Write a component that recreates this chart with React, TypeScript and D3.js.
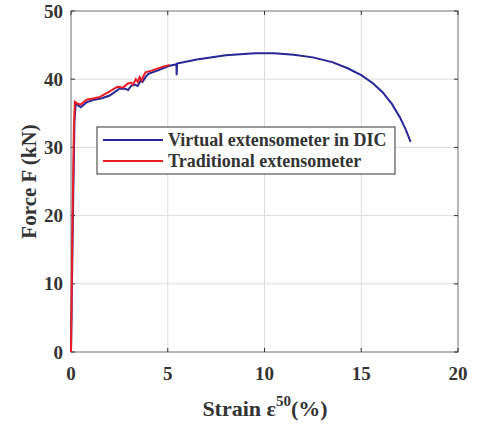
import React from "react";
import * as d3 from "d3";

const xTicks = [0, 5, 10, 15, 20];
const yTicks = [0, 10, 20, 30, 40, 50];

const blueStrain = [0, 0.1, 0.18, 0.25, 0.5, 0.8, 1.2, 1.6, 2.0, 2.5, 2.8, 2.95, 3.1, 3.3, 3.45, 3.6, 3.7, 3.85, 4.0, 4.5, 5.0, 5.45, 5.46, 5.48, 6.5, 8.0, 9.5, 10.5, 11.5, 12.5, 13.5, 14.3, 15.0, 15.6, 16.1, 16.6, 17.0, 17.3, 17.55];
const blueForce = [0, 20, 34, 36.4, 35.9, 36.6, 37.0, 37.2, 37.6, 38.6, 38.6, 38.4, 39.0, 39.2, 39.0, 39.8, 39.6, 40.3, 40.8, 41.3, 41.9, 42.2, 40.6, 42.3, 42.9, 43.5, 43.8, 43.8, 43.6, 43.2, 42.5, 41.6, 40.6, 39.4, 38.1, 36.3, 34.4, 32.6, 30.8];

const redStrain = [0, 0.08, 0.15, 0.2, 0.35, 0.5, 0.8, 1.2, 1.5, 2.0, 2.4, 2.7, 2.9, 3.1, 3.2, 3.35, 3.45, 3.55, 3.65, 3.75, 3.85, 4.2, 4.6, 5.1];
const redForce = [0, 20, 33, 36.7, 36.4, 36.3, 37.0, 37.2, 37.4, 38.2, 38.9, 38.8, 39.3, 39.5, 39.2, 40.0, 39.6, 40.3, 39.8, 40.5, 41.0, 41.3, 41.7, 42.1];

const seriesNames = ["Virtual extensometer in DIC", "Traditional extensometer"];
const seriesColors = ["#262696", "#ee1c25"];

export default function App() {
  const W = 478, H = 424;
  const L = 71, R = 458, T = 11, B = 352;
  const x = d3.scaleLinear().domain([0, 20]).range([L, R]);
  const y = d3.scaleLinear().domain([0, 50]).range([B, T]);
  const line = d3.line<[number, number]>().x(d => x(d[0])).y(d => y(d[1]));
  const blue = blueStrain.map((s, i) => [s, blueForce[i]] as [number, number]);
  const red = redStrain.map((s, i) => [s, redForce[i]] as [number, number]);
  const font = "'Liberation Serif', 'Times New Roman', serif";
  const txt = "#333333";
  return (
    <svg width={W} height={H} style={{ position: "absolute", left: 0, top: 0, background: "#fff" }} fontFamily={font}>
      {xTicks.slice(1, -1).map(t => (
        <line key={"gx" + t} x1={x(t)} x2={x(t)} y1={T} y2={B} stroke="#dcdcdc" strokeWidth={1} />
      ))}
      {yTicks.slice(1, -1).map(t => (
        <line key={"gy" + t} x1={L} x2={R} y1={y(t)} y2={y(t)} stroke="#dcdcdc" strokeWidth={1} />
      ))}
      <rect x={L} y={T} width={R - L} height={B - T} fill="none" stroke="#888" strokeWidth={1.2} />
      {xTicks.map(t => (
        <g key={"tx" + t}>
          <line x1={x(t)} x2={x(t)} y1={B} y2={B - 4} stroke="#333" />
          <line x1={x(t)} x2={x(t)} y1={T} y2={T + 4} stroke="#333" />
          <text x={x(t)} y={380} textAnchor="middle" fontSize={19} fontWeight="bold" fill={txt}>{t}</text>
        </g>
      ))}
      {yTicks.map(t => (
        <g key={"ty" + t}>
          <line x1={L} x2={L + 4} y1={y(t)} y2={y(t)} stroke="#333" />
          <line x1={R} x2={R - 4} y1={y(t)} y2={y(t)} stroke="#333" />
          <text x={63} y={y(t) + 6.5} textAnchor="end" fontSize={19} fontWeight="bold" fill={txt}>{t}</text>
        </g>
      ))}
      <path d={line(blue) || ""} fill="none" stroke={seriesColors[0]} strokeWidth={2} />
      <path d={line(red) || ""} fill="none" stroke={seriesColors[1]} strokeWidth={2} />
      <text transform={`translate(36,${(T + B) / 2}) rotate(-90)`} textAnchor="middle" fontSize={21} fontWeight="bold" fill={txt}>Force F (kN)</text>
      <text x={265} y={416} textAnchor="middle" fontSize={22} fontWeight="bold" fill={txt}>
        Strain ε<tspan dy={-10} fontSize={15}>50</tspan><tspan dy={10}>(%)</tspan>
      </text>
      <g>
        <rect x={97} y={127} width={298} height={47} fill="#fff" stroke="#333" strokeWidth={1} />
        {seriesNames.map((n, i) => (
          <g key={n}>
            <line x1={103} x2={163} y1={140 + i * 21} y2={140 + i * 21} stroke={seriesColors[i]} strokeWidth={2} />
            <text x={168} y={146 + i * 21} fontSize={18} fontWeight="bold" fill={txt}>{n}</text>
          </g>
        ))}
      </g>
    </svg>
  );
}
